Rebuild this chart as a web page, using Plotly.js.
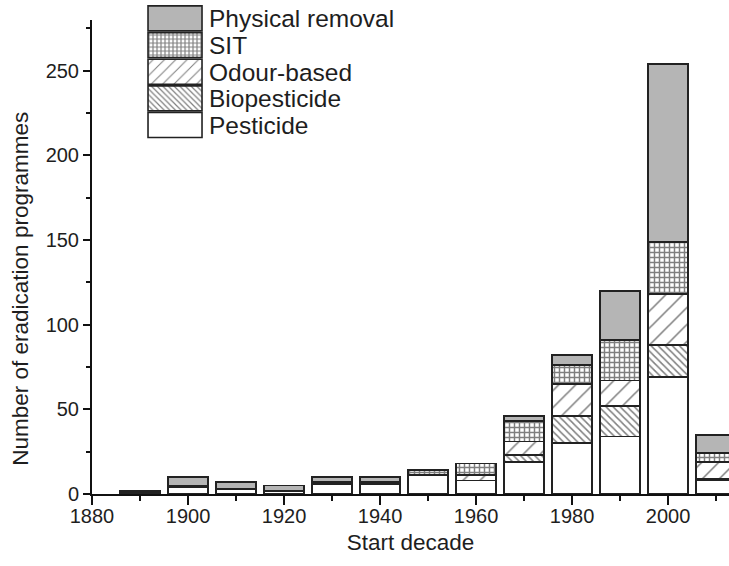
<!DOCTYPE html>
<html>
<head>
<meta charset="utf-8">
<script src="https://cdn.plot.ly/plotly-3.0.1.min.js"></script>
<style>html,body{margin:0;padding:0;background:#fff;}#chart{width:729px;height:566px;}</style>
</head>
<body>
<div id="chart"></div>
<script>
// Start decade of eradication programmes
const decades = [1890, 1900, 1910, 1920, 1930, 1940, 1950, 1960, 1970, 1980, 1990, 2000, 2010];
const pesticide = [1, 4, 3, 2, 6, 6, 11, 8, 19, 30, 34, 69, 8];
const biopesticide = [0, 0, 0, 0, 0, 0, 0, 0, 4, 16, 18, 19, 1];
const odourBased = [0, 1, 0, 0, 1, 1, 0, 3, 8, 19, 15, 30, 10];
const sit = [0, 0, 0, 0, 0, 0, 3, 7, 12, 11, 24, 31, 5];
const physicalRemoval = [1, 5, 4, 3, 3, 3, 0, 0, 3, 6, 29, 105, 11];

const xTitle = 'Start decade';
const yTitle = 'Number of eradication programmes';

const outline = {color: '#222', width: 1.8};
const barWidth = 8.3;

function bar(name, y, pattern, color) {
  return {
    type: 'bar', name: name, x: decades, y: y, width: barWidth,
    marker: {color: color, line: outline, pattern: pattern},
    hoverinfo: 'x+y+name'
  };
}

const traces = [
  bar('Pesticide', pesticide, {shape: ''}, '#ffffff'),
  bar('Biopesticide', biopesticide, {shape: '\\', size: 5, solidity: 0.3, fgcolor: '#000', bgcolor: '#ffffff', fillmode: 'overlay'}, '#ffffff'),
  bar('Odour-based', odourBased, {shape: '/', size: 12, solidity: 0.13, fgcolor: '#000', bgcolor: '#ffffff', fillmode: 'overlay'}, '#ffffff'),
  bar('SIT', sit, {shape: '+', size: 5, solidity: 0.5, fgcolor: '#000', bgcolor: '#ffffff', fillmode: 'overlay'}, '#ffffff'),
  bar('Physical removal', physicalRemoval, {shape: ''}, '#b5b5b5')
];

const font = {family: '"Liberation Sans", Arial, sans-serif', color: '#1e1e1e'};

const layout = {
  width: 729, height: 566,
  margin: {l: 92, r: 0, t: 20, b: 72, pad: 0},
  paper_bgcolor: '#fff', plot_bgcolor: '#fff',
  barmode: 'stack',
  font: Object.assign({size: 19}, font),
  showlegend: true,
  legend: {
    x: 0.0848, y: 1.042, xanchor: 'left', yanchor: 'top',
    traceorder: 'reversed',
    itemwidth: 53,
    font: Object.assign({size: 18.2}, font),
    bgcolor: 'rgba(0,0,0,0)',
    itemclick: false, itemdoubleclick: false
  },
  xaxis: {
    range: [1880, 2012.7],
    tick0: 1880, dtick: 20,
    ticks: 'outside', ticklen: 9, tickwidth: 2, tickcolor: '#111',
    ticklabelstandoff: -6,
    showline: true, linecolor: '#111', linewidth: 2,
    showgrid: false, zeroline: false,
    tickfont: Object.assign({size: 20}, font),
    minor: {dtick: 10, ticks: 'outside', ticklen: 5, tickwidth: 2, tickcolor: '#111', showgrid: false},
    title: {text: xTitle, font: Object.assign({size: 22.5}, font), standoff: 8}
  },
  yaxis: {
    range: [0, 280],
    tick0: 0, dtick: 50,
    ticks: 'outside', ticklen: 7, tickwidth: 2, tickcolor: '#111',
    showline: true, linecolor: '#111', linewidth: 2,
    showgrid: false, zeroline: false,
    tickfont: Object.assign({size: 20}, font),
    minor: {dtick: 25, ticks: 'outside', ticklen: 4, tickwidth: 2, tickcolor: '#111', showgrid: false}
  },
  annotations: [{
    text: yTitle, textangle: -90,
    xref: 'paper', yref: 'paper', x: -0.1115, y: 0.433,
    xanchor: 'center', yanchor: 'middle', showarrow: false,
    font: Object.assign({size: 22.5}, font)
  }]
};

Plotly.newPlot('chart', traces, layout, {displayModeBar: false, staticPlot: true}).then(function () {
  // wide legend swatches and large legend text, as in the reference
  const sb = document.querySelector('.legend .scrollbox');
  if (sb) sb.removeAttribute('clip-path');
  document.querySelectorAll('.legend .legendpoints path').forEach(function (p) {
    p.setAttribute('d', 'M27,12.5H-27V-12.5H27Z');
    p.setAttribute('transform', 'translate(29,0)');
    p.style.strokeWidth = '1.6px';
  });
  document.querySelectorAll('.legend text.legendtext').forEach(function (t) {
    t.style.fontSize = '24.5px';
    t.setAttribute('y', '8.8');
  });
});
</script>
</body>
</html>
